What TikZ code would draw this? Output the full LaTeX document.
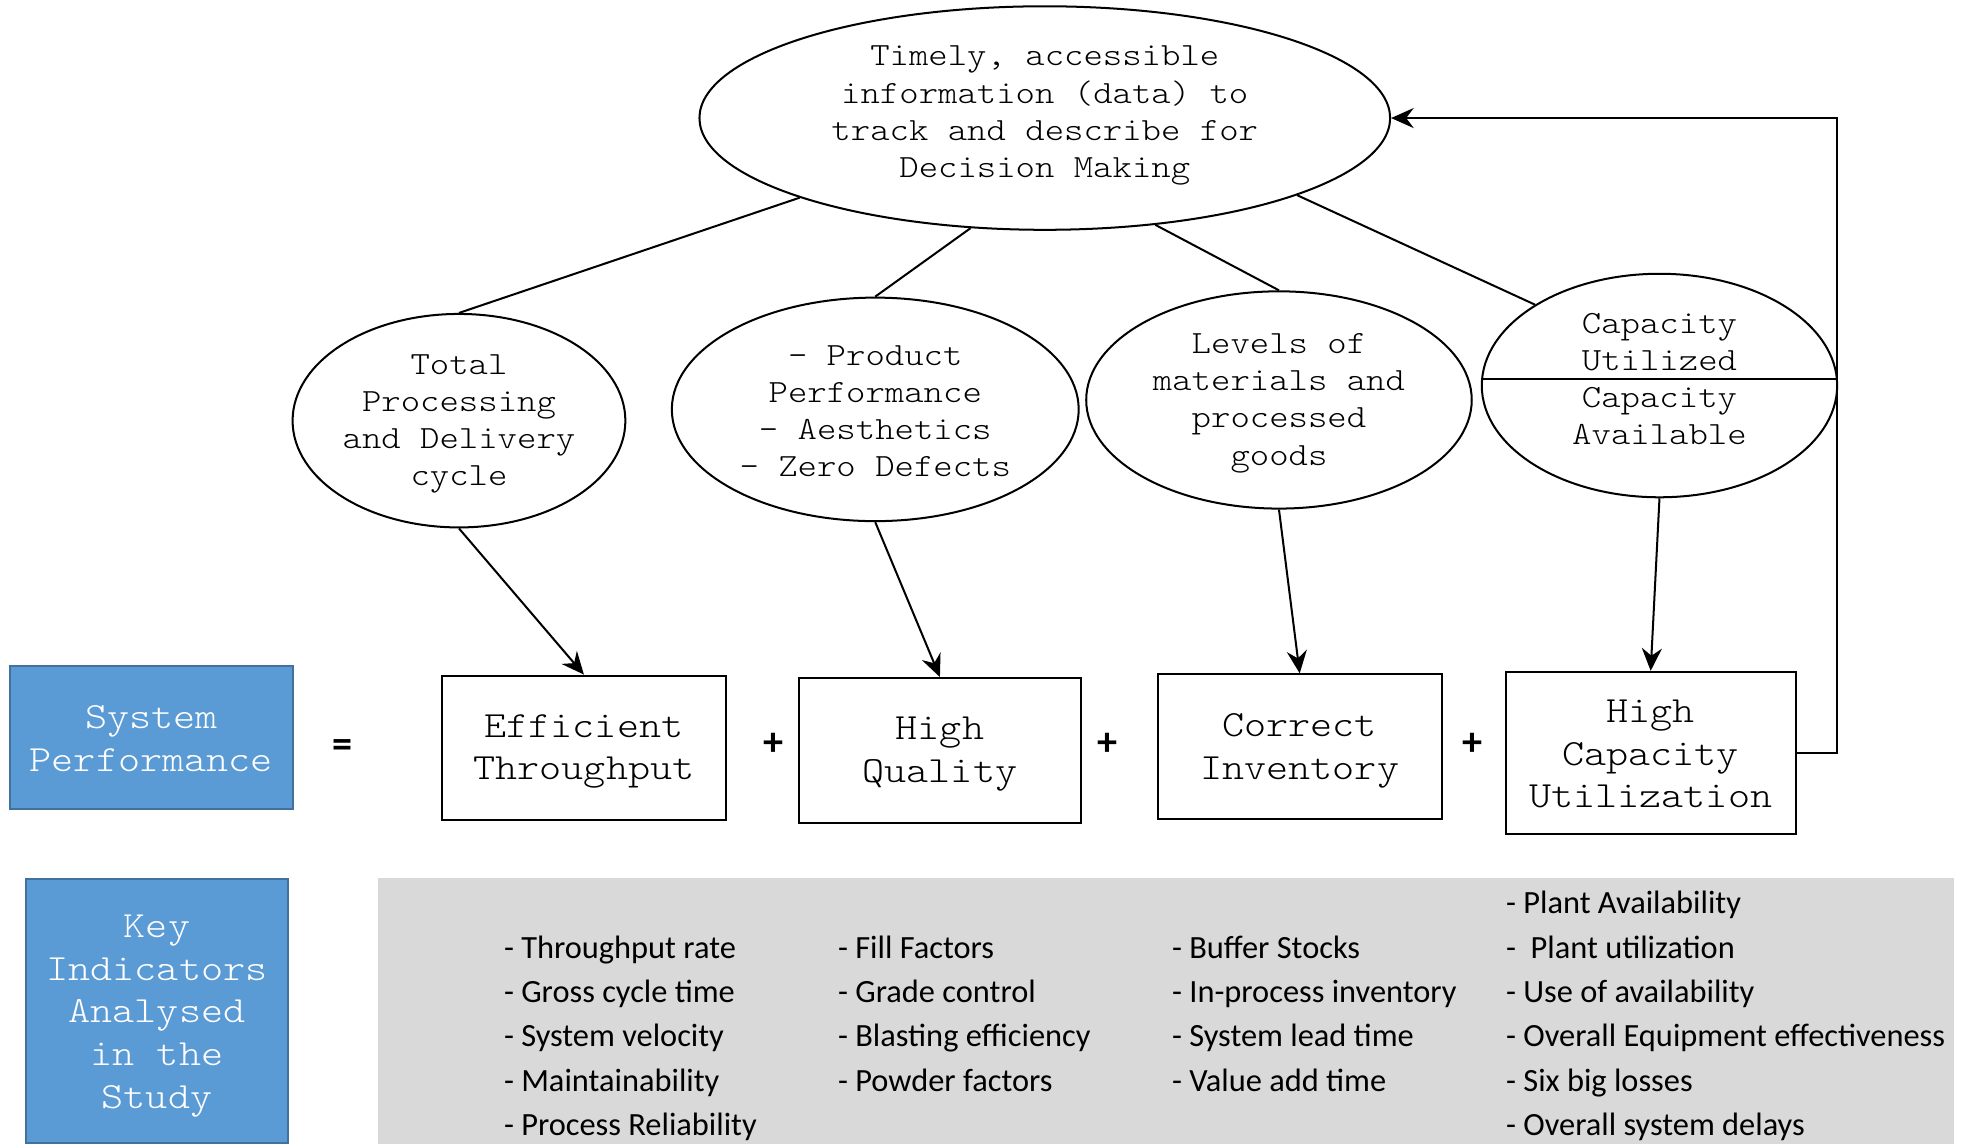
\documentclass[tikz,border=0pt]{standalone}
\usepackage{fontspec}
\newfontfamily\courierish{Latin Modern Mono Light}[FakeStretch=1.14]
\newfontfamily\listfont{Carlito}
\usetikzlibrary{arrows.meta,shapes.geometric}

\definecolor{boxblue}{HTML}{5B9BD5}
\definecolor{boxblueline}{HTML}{41719C}
\definecolor{panelgray}{HTML}{D9D9D9}

\tikzset{
  link/.style={line width=0.8pt},
  feed/.style={line width=0.8pt,-{Stealth[length=9pt,width=8pt,inset=3pt]}},
  ovaltext/.style={align=center,inner sep=0pt,
    font=\courierish\fontsize{12.9}{14.8}\selectfont},
  oval/.style={ellipse,draw,line width=0.8pt,inner sep=0pt},
  goal/.style={rectangle,draw,line width=0.8pt,inner sep=0pt},
  goaltext/.style={align=center,inner sep=0pt,
    font=\courierish\fontsize{14.7}{17}\selectfont},
  bluebox/.style={rectangle,draw=boxblueline,fill=boxblue,line width=0.8pt,inner sep=0pt},
  bluetext/.style={goaltext,text=white},
  opsign/.style={font=\listfont\bfseries\fontsize{16}{18}\selectfont,inner sep=0pt},
  item/.style={anchor=base west,inner sep=0pt,font=\listfont\fontsize{12.9}{15}\selectfont}
}

\begin{document}
\begin{tikzpicture}[x=0.5pt,y=-0.5pt]
\useasboundingbox (0,0) rectangle (1568,911);

% indicator panel behind the lists
\fill[panelgray] (301,699) rectangle (1556,911);

% central information ellipse
\node[oval,minimum width=275pt,minimum height=89pt] (info) at (832,94) {};
\node[ovaltext] (infotext) at (832,92)
  {Timely, accessible\\information (data) to\\track and describe for\\Decision Making};

% descriptive ellipses
\node[oval,minimum width=132.5pt,minimum height=85pt] (e1) at (365.5,335) {};
\node[ovaltext] (e1text) at (365.5,337.5) {Total\\Processing\\and Delivery\\cycle};
\node[oval,minimum width=162pt,minimum height=89pt] (e2) at (697,326) {};
\node[ovaltext] (e2text) at (697,327.5) {- Product\\Performance\\- Aesthetics\\- Zero Defects};
\node[oval,minimum width=153.5pt,minimum height=86.5pt] (e3) at (1018.5,318.5) {};
\node[ovaltext] (e3text) at (1018.5,321) {Levels of\\materials and\\processed\\goods};
\node[oval,minimum width=141.5pt,minimum height=89pt] (e4) at (1321.5,307) {};
\draw[link] (e4.west |- 0,302) -- (e4.east |- 0,302);
\node[ovaltext,anchor=south] (e4top) at (1321.5,296) {Capacity\\Utilized};
\node[ovaltext,anchor=north] (e4bot) at (1321.5,308) {Capacity\\Available};

% performance equation
\node[bluebox,minimum width=112.5pt,minimum height=57pt] (sys) at (120.5,587) {};
\node[bluetext] (systext) at (120.5,588) {System\\Performance};
\node[opsign] (eq) at (273,596) {=};
\node[goal,minimum width=113pt,minimum height=57.5pt] (b1) at (465,595.5) {};
\node[goaltext] (b1text) at (465,598.5) {Efficient\\Throughput};
\node[opsign] (p1) at (616,593) {+};
\node[goal,minimum width=112.5pt,minimum height=57.5pt] (b2) at (748.5,597.5) {};
\node[goaltext] (b2text) at (748.5,600.5) {High\\Quality};
\node[opsign] (p2) at (882,593) {+};
\node[goal,minimum width=113pt,minimum height=57.5pt] (b3) at (1035,594.5) {};
\node[goaltext] (b3text) at (1035,598) {Correct\\Inventory};
\node[opsign] (p3) at (1173,593) {+};
\node[goal,minimum width=115.5pt,minimum height=64.5pt] (b4) at (1314.5,599.5) {};
\node[goaltext] (b4text) at (1314.5,600.5) {High\\Capacity\\Utilization};

% links from the information ellipse
\draw[link] (info.-162.4) -- (e1.north);
\draw[link] (info.-124.6) -- (e2.north);
\draw[link] (info.-44) -- (e3.north);
\draw[link] (info.-17.6) -- (e4.147.8);

% arrows to the goals
\draw[feed] (e1.south) -- (b1.north);
\draw[feed] (e2.south) -- (b2.north);
\draw[feed] (e3.south) -- (b3.north);
\draw[feed] (e4.south) -- (b4.north);

% feedback loop
\coordinate (loop) at (1463,600);
\draw[feed] (b4.east) -- (b4.east -| loop) |- (info.east);

% key indicators
\node[bluebox,minimum width=104pt,minimum height=105pt] (key) at (125,805) {};
\node[bluetext] (keytext) at (125,809) {Key\\Indicators\\Analysed\\in the\\Study};

\foreach \t [count=\i] in {Throughput rate,Gross cycle time,System velocity,
    Maintainability,Process Reliability}
  \node[item] (ka\i) at (401,{763+35.3*(\i-1)}) {- \t};
\foreach \t [count=\i] in {Fill Factors,Grade control,Blasting efficiency,Powder factors}
  \node[item] (kb\i) at (667,{763+35.3*(\i-1)}) {- \t};
\foreach \t [count=\i] in {Buffer Stocks,In-process inventory,System lead time,Value add time}
  \node[item] (kc\i) at (933,{763+35.3*(\i-1)}) {- \t};
\foreach \t [count=\i] in {Plant Availability,{\ }Plant utilization,Use of availability,
    Overall Equipment effectiveness,Six big losses,Overall system delays}
  \node[item] (kd\i) at (1199,{727.7+35.3*(\i-1)}) {- \t};
\end{tikzpicture}
\end{document}
